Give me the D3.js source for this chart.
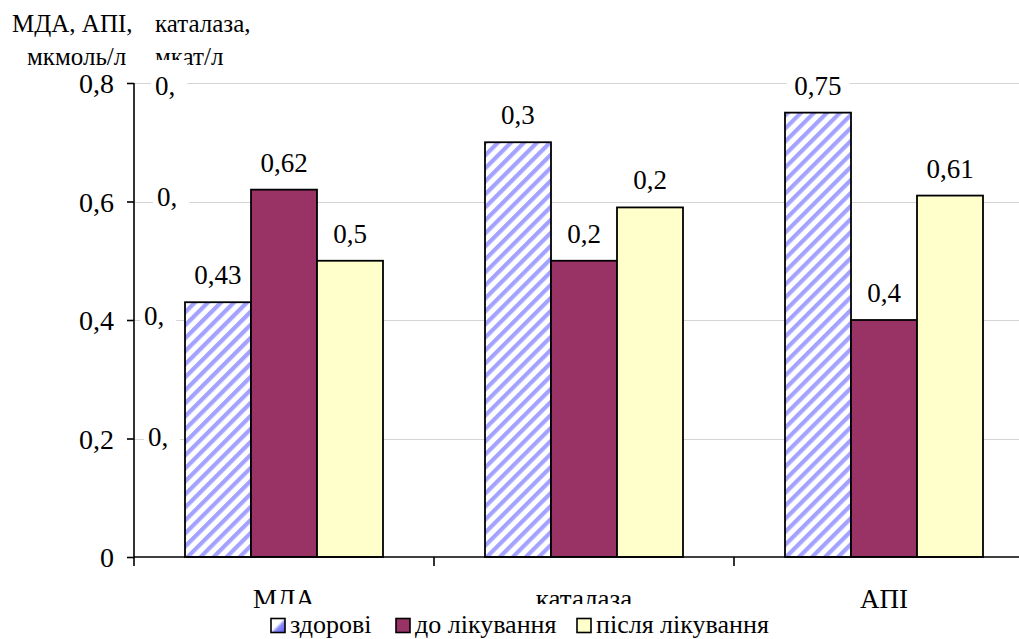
<!DOCTYPE html>
<html>
<head>
<meta charset="utf-8">
<script src="https://cdn.jsdelivr.net/npm/d3@7/dist/d3.min.js"></script>
</head>
<body style="margin:0">
<svg id="chart" width="1019" height="639"></svg>
<script>
// Categories and series
const categories = ["МДА", "каталаза", "АПІ"];
const seriesNames = ["здорові", "до лікування", "після лікування"];

// МДА and АПІ in мкмоль/л (left axis); каталаза in мкат/л (right-hand scale)
const healthy = [0.43, 0.35, 0.75];
const beforeTreatment = [0.62, 0.25, 0.40];
const afterTreatment = [0.50, 0.295, 0.61];
const onSecondaryScale = [false, true, false];

// Axis ticks
const leftTicks = [0, 0.2, 0.4, 0.6, 0.8];
const leftTickLabels = ["0", "0,2", "0,4", "0,6", "0,8"];
const secondaryTicks = [0.1, 0.2, 0.3, 0.4];
const secondaryTickLabels = ["0,", "0,", "0,", "0,"];

const family = "Liberation Serif";
const svg = d3.select("#chart");
const axisX = 134, yBottom = 557, yTop = 83;

const y = d3.scaleLinear().domain([0, 0.8]).range([yBottom, yTop]);
const y2 = d3.scaleLinear().domain([0, 0.4]).range([yBottom, yTop]);
const x = d3.scaleBand().domain(categories).range([axisX, axisX + 900]).padding(0);
const xInner = d3.scaleBand().domain(seriesNames).range([0, x.bandwidth()])
  .paddingInner(0).paddingOuter(0.7727);

// Approximate advance of numeric strings in a Times-metric face
const numWidth = (s, size) => [...s].reduce((w, ch) => w + (ch === "," ? 0.25 : 0.5), 0) * size;

// Adds a serif text node; face and size are set before the content
function addText(parent, px, py, size, content, anchor) {
  const t = parent.append("text").attr("x", px).attr("y", py)
    .style("font-family", `"${family}"`).attr("font-size", size).attr("fill", "#000");
  if (anchor) t.attr("text-anchor", anchor);
  return t.text(content);
}

// Fills
const defs = svg.append("defs");
const hatch = defs.append("pattern")
  .attr("id", "hatch").attr("patternUnits", "userSpaceOnUse")
  .attr("width", 9.2).attr("height", 9.2)
  .attr("patternTransform", "rotate(45)");
hatch.append("rect").attr("width", 9.2).attr("height", 9.2).attr("fill", "#fff");
hatch.append("rect").attr("x", 0).attr("width", 4.2).attr("height", 9.2).attr("fill", "#a3a3ff");
const grad = defs.append("linearGradient").attr("id", "swatchGrad")
  .attr("x1", "0").attr("y1", "0").attr("x2", "1").attr("y2", "1");
grad.append("stop").attr("offset", "0.45").attr("stop-color", "#fff");
grad.append("stop").attr("offset", "0.6").attr("stop-color", "#8c8cff");
grad.append("stop").attr("offset", "1").attr("stop-color", "#5a5ae6");

const fills = ["url(#hatch)", "#993366", "#ffffcc"];
const swatchFills = ["url(#swatchGrad)", "#993366", "#ffffcc"];

// Gridlines
svg.append("g").selectAll("line").data(leftTicks.filter(d => d > 0)).join("line")
  .attr("x1", axisX).attr("x2", 1019)
  .attr("y1", d => Math.round(y(d)) + 0.5).attr("y2", d => Math.round(y(d)) + 0.5)
  .attr("stroke", "#d4d4d4").attr("stroke-width", 1);

// Unit titles
addText(svg, 12, 32, 25, "МДА, АПІ,");
addText(svg, 27, 65, 25, "мкмоль/л");
addText(svg, 155, 32, 25, "каталаза,");
addText(svg, 155, 65, 25, "мкат/л");

// Bars
const series = [healthy, beforeTreatment, afterTreatment];
const barData = [];
categories.forEach((c, ci) => {
  seriesNames.forEach((s, si) => {
    const v = series[si][ci];
    const sc = onSecondaryScale[ci] ? y2 : y;
    const text = onSecondaryScale[ci]
      ? String(Math.floor(v * 10 + 1e-9) / 10).replace(".", ",")
      : String(v).replace(".", ",");
    barData.push({ c, s, si, v, top: sc(v), text });
  });
});

svg.append("g").selectAll("rect").data(barData).join("rect")
  .attr("x", d => x(d.c) + xInner(d.s))
  .attr("y", d => d.top)
  .attr("width", xInner.bandwidth())
  .attr("height", d => yBottom - d.top)
  .attr("fill", d => fills[d.si])
  .attr("stroke", "#000").attr("stroke-width", 1.8);

// Right-hand scale labels (text clipped to "0,"), each on a white box
const secNudge = [[14, 7], [10, 5], [23, 4], [21, 12]];
const secG = svg.append("g");
secondaryTicks.forEach((t, i) => {
  const tx = axisX + secNudge[i][0], ty = y2(t) + secNudge[i][1];
  const w = numWidth(secondaryTickLabels[i], 27);
  secG.append("rect").attr("x", tx - 4).attr("y", ty - 35)
    .attr("width", w + 16).attr("height", 44).attr("fill", "#fff");
  addText(secG, tx, ty, 27, secondaryTickLabels[i]);
});

// Value labels on white boxes
const lblG = svg.append("g");
barData.forEach(d => {
  const cx = x(d.c) + xInner(d.s) + xInner.bandwidth() / 2;
  const ty = d.top - 18;
  const w = numWidth(d.text, 27);
  lblG.append("rect").attr("x", cx - w / 2 - 8).attr("y", ty - 23)
    .attr("width", w + 16).attr("height", 32).attr("fill", "#fff");
  addText(lblG, cx, ty, 27, d.text, "middle");
});

// Left axis: line and ticks from d3, labels as serif text
const yAxis = d3.axisLeft(y).tickValues(leftTicks).tickSize(7).tickFormat("");
const yAxisG = svg.append("g").attr("transform", `translate(${axisX},0)`).call(yAxis);
yAxisG.select(".domain").attr("stroke", "#000").attr("stroke-width", 1.6)
  .attr("d", `M0,${yTop}V${yBottom + 9}`);
yAxisG.selectAll(".tick line").attr("stroke", "#000").attr("stroke-width", 1.6);
leftTicks.forEach((t, i) => addText(svg, axisX - 20, y(t) + 10, 28, leftTickLabels[i], "end"));

// Category axis
const xAxis = d3.axisBottom(x).tickSize(0).tickFormat("");
const xAxisG = svg.append("g").attr("transform", `translate(0,${yBottom})`).call(xAxis);
xAxisG.select(".domain").attr("stroke", "#000").attr("stroke-width", 1.6)
  .attr("d", `M${axisX},0H1019`);
categories.forEach(c => addText(svg, x(c) + x.bandwidth() / 2, yBottom + 51, 27, c, "middle"));
// boundary ticks between categories
xAxisG.append("g").selectAll("line").data(categories.slice(1)).join("line")
  .attr("x1", d => x(d)).attr("x2", d => x(d)).attr("y1", 0).attr("y2", 9)
  .attr("stroke", "#000").attr("stroke-width", 1.6);

// Legend
const legendX = [271, 396, 577];
const legend = svg.append("g");
legend.append("rect").attr("x", 262).attr("y", 604).attr("width", 530).attr("height", 35).attr("fill", "#fff");
seriesNames.forEach((s, i) => {
  legend.append("rect").attr("x", legendX[i]).attr("y", 618.5).attr("width", 14).attr("height", 14)
    .attr("fill", swatchFills[i]).attr("stroke", "#000").attr("stroke-width", 1.6);
  addText(legend, legendX[i] + 19, 633, 26, s);
});
</script>
</body>
</html>
